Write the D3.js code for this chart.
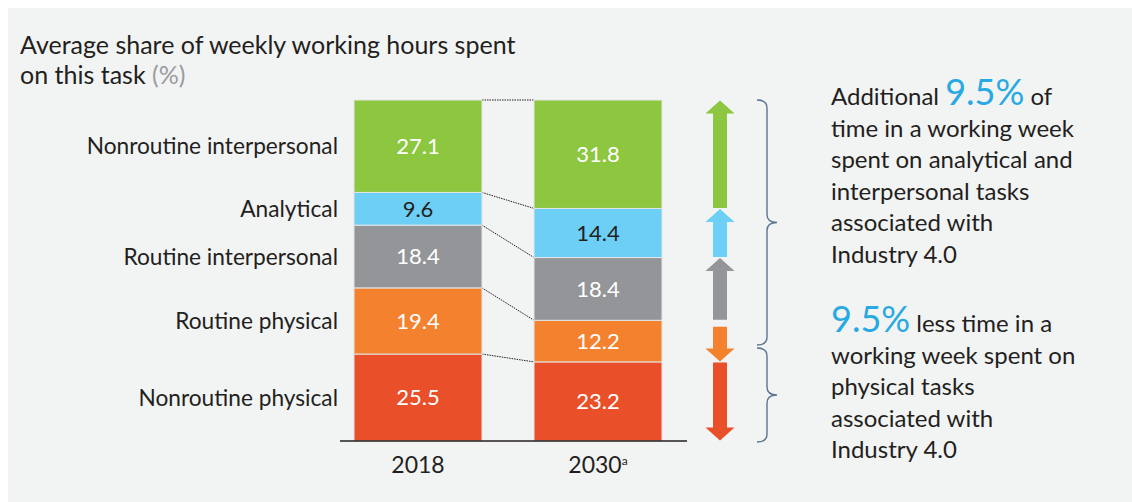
<!DOCTYPE html>
<html>
<head>
<meta charset="utf-8">
<script src="https://cdn.jsdelivr.net/npm/d3@7"></script>
<style>
  body { margin: 0; background: #fff; }
  svg { display: block; font-family: Lato, "Open Sans", sans-serif; }
</style>
</head>
<body>
<svg id="chart" width="1132" height="502"></svg>
<script>
// task categories, bottom to top
var tasks = ['Nonroutine physical', 'Routine physical', 'Routine interpersonal', 'Analytical', 'Nonroutine interpersonal'];
var years = ['2018', '2030'];
var values2018 = [25.5, 19.4, 18.4, 9.6, 27.1];
var values2030 = [23.2, 12.2, 18.4, 14.4, 31.8];
var colors = ['#e9502a', '#f4812e', '#939598', '#6dcff6', '#8dc63f'];
var labelColors = ['#fff', '#fff', '#fff', '#231f20', '#fff'];
var arrowDir = ['down', 'down', 'up', 'up', 'up'];

var svg = d3.select('#chart');

// grey panel
svg.append('rect')
  .attr('x', 8).attr('y', 8)
  .attr('width', 1132).attr('height', 502)
  .attr('fill', '#f2f3f3');

var y = d3.scaleLinear().domain([0, 100]).range([441, 100]);
var x = d3.scaleBand().domain(years).range([354, 662]).paddingInner(52 / 180);

function stackUp(vals) {
  var acc = 0;
  return vals.map(function(v, i) {
    var d = {task: tasks[i], value: v, y0: acc, y1: acc + v, i: i};
    acc += v;
    return d;
  });
}
var stacks = {'2018': stackUp(values2018), '2030': stackUp(values2030)};

// title
var title = svg.append('text')
  .attr('x', 20).attr('y', 54)
  .attr('font-size', 25)
  .attr('fill', '#231f20');
title.append('tspan').text('Average share of weekly working hours spent');
title.append('tspan').attr('x', 20).attr('dy', 30).text('on this task ');
title.append('tspan').attr('fill', '#9b9c9e').text('(%)');

// dotted connectors between the bars
var bounds = d3.range(1, tasks.length + 1).map(function(k) {
  return {a: stacks['2018'][k - 1].y1, b: stacks['2030'][k - 1].y1};
});

svg.append('g').selectAll('line')
  .data(bounds)
  .enter()
  .append('line')
  .attr('x1', x('2018') + x.bandwidth())
  .attr('x2', x('2030'))
  .attr('y1', function(d) { return y(d.a); })
  .attr('y2', function(d) { return y(d.b); })
  .attr('stroke', '#231f20')
  .attr('stroke-width', 1)
  .attr('stroke-dasharray', '1.5,1');

// bars
years.forEach(function(yr) {
  var g = svg.append('g');
  g.selectAll('rect')
    .data(stacks[yr])
    .enter()
    .append('rect')
    .attr('x', x(yr))
    .attr('width', x.bandwidth())
    .attr('y', function(d) { return y(d.y1); })
    .attr('height', function(d) { return y(d.y0) - y(d.y1); })
    .attr('fill', function(d) { return colors[d.i]; })
    .attr('stroke', '#e4e6e6')
    .attr('stroke-width', 1);
  g.selectAll('text')
    .data(stacks[yr])
    .enter()
    .append('text')
    .attr('x', x(yr) + x.bandwidth() / 2)
    .attr('y', function(d) { return y((d.y0 + d.y1) / 2); })
    .attr('dy', '0.36em')
    .attr('text-anchor', 'middle')
    .attr('font-size', 22)
    .attr('fill', function(d) { return labelColors[d.i]; })
    .text(function(d) { return d.value.toFixed(1); });
});

// category labels
svg.append('g').selectAll('text')
  .data(stacks['2018'])
  .enter()
  .append('text')
  .attr('x', 338)
  .attr('y', function(d) { return y((d.y0 + d.y1) / 2); })
  .attr('dy', '0.36em')
  .attr('text-anchor', 'end')
  .attr('font-size', 22.7)
  .attr('fill', '#231f20')
  .text(function(d) { return d.task; });

// x axis
svg.append('line')
  .attr('x1', 340).attr('x2', 687)
  .attr('y1', y(0)).attr('y2', y(0))
  .attr('stroke', '#231f20').attr('stroke-width', 1.3);

var xl = svg.append('g').selectAll('text')
  .data(years)
  .enter()
  .append('text')
  .attr('x', function(d) { return x(d) + x.bandwidth() / 2; })
  .attr('y', 473)
  .attr('text-anchor', 'middle')
  .attr('font-size', 23)
  .attr('fill', '#231f20');
xl.append('tspan').text(function(d) { return d; });
xl.filter(function(d) { return d === '2030'; })
  .append('tspan')
  .attr('dy', -8)
  .attr('font-size', 12)
  .text('a');

// arrows next to the 2030 bar
var ax = 720, shaftW = 14, headW = 29, headH = 13;
function arrowPath(d) {
  var top = y(d.y1) + 0.5, bot = y(d.y0) - 0.5;
  if (d.i === 1) { top += 6; }
  if (arrowDir[d.i] === 'up') {
    return 'M' + ax + ',' + top +
      'L' + (ax + headW / 2) + ',' + (top + headH) +
      'L' + (ax + shaftW / 2) + ',' + (top + headH) +
      'L' + (ax + shaftW / 2) + ',' + bot +
      'L' + (ax - shaftW / 2) + ',' + bot +
      'L' + (ax - shaftW / 2) + ',' + (top + headH) +
      'L' + (ax - headW / 2) + ',' + (top + headH) + 'Z';
  }
  return 'M' + ax + ',' + bot +
    'L' + (ax + headW / 2) + ',' + (bot - headH) +
    'L' + (ax + shaftW / 2) + ',' + (bot - headH) +
    'L' + (ax + shaftW / 2) + ',' + top +
    'L' + (ax - shaftW / 2) + ',' + top +
    'L' + (ax - shaftW / 2) + ',' + (bot - headH) +
    'L' + (ax - headW / 2) + ',' + (bot - headH) + 'Z';
}
svg.append('g').selectAll('path')
  .data(stacks['2030'])
  .enter()
  .append('path')
  .attr('d', arrowPath)
  .attr('fill', function(d) { return colors[d.i]; });

// braces
var braces = [[100, 345], [348, 442]];
function bracePath(b) {
  var x0 = 757, x1 = 767, x2 = 777, r = 8;
  var y0 = b[0], y1 = b[1], ym = (y0 + y1) / 2;
  return 'M' + x0 + ',' + y0 +
    'Q' + x1 + ',' + y0 + ' ' + x1 + ',' + (y0 + r) +
    'L' + x1 + ',' + (ym - r) +
    'Q' + x1 + ',' + ym + ' ' + x2 + ',' + ym +
    'Q' + x1 + ',' + ym + ' ' + x1 + ',' + (ym + r) +
    'L' + x1 + ',' + (y1 - r) +
    'Q' + x1 + ',' + y1 + ' ' + x0 + ',' + y1;
}
svg.append('g').selectAll('path')
  .data(braces)
  .enter()
  .append('path')
  .attr('d', bracePath)
  .attr('fill', 'none')
  .attr('stroke', '#5b7590')
  .attr('stroke-width', 1.4);

// notes on the right
var noteFont = 24, noteLH = 31.6;
var n1 = svg.append('text').attr('x', 831).attr('y', 105)
  .attr('font-size', noteFont).attr('fill', '#231f20');
n1.append('tspan').text('Additional ');
n1.append('tspan').attr('fill', '#27a9e1').attr('font-size', 36).text('9.5%');
n1.append('tspan').text(' of');
['time in a working week', 'spent on analytical and', 'interpersonal tasks',
 'associated with', 'Industry 4.0'].forEach(function(s) {
  n1.append('tspan').attr('x', 831).attr('dy', noteLH).text(s);
});

var n2 = svg.append('text').attr('x', 831).attr('y', 332)
  .attr('font-size', noteFont).attr('fill', '#231f20');
n2.append('tspan').attr('fill', '#27a9e1').attr('font-size', 36).text('9.5%');
n2.append('tspan').text(' less time in a');
['working week spent on', 'physical tasks', 'associated with', 'Industry 4.0'].forEach(function(s) {
  n2.append('tspan').attr('x', 831).attr('dy', noteLH).text(s);
});
</script>
</body>
</html>
